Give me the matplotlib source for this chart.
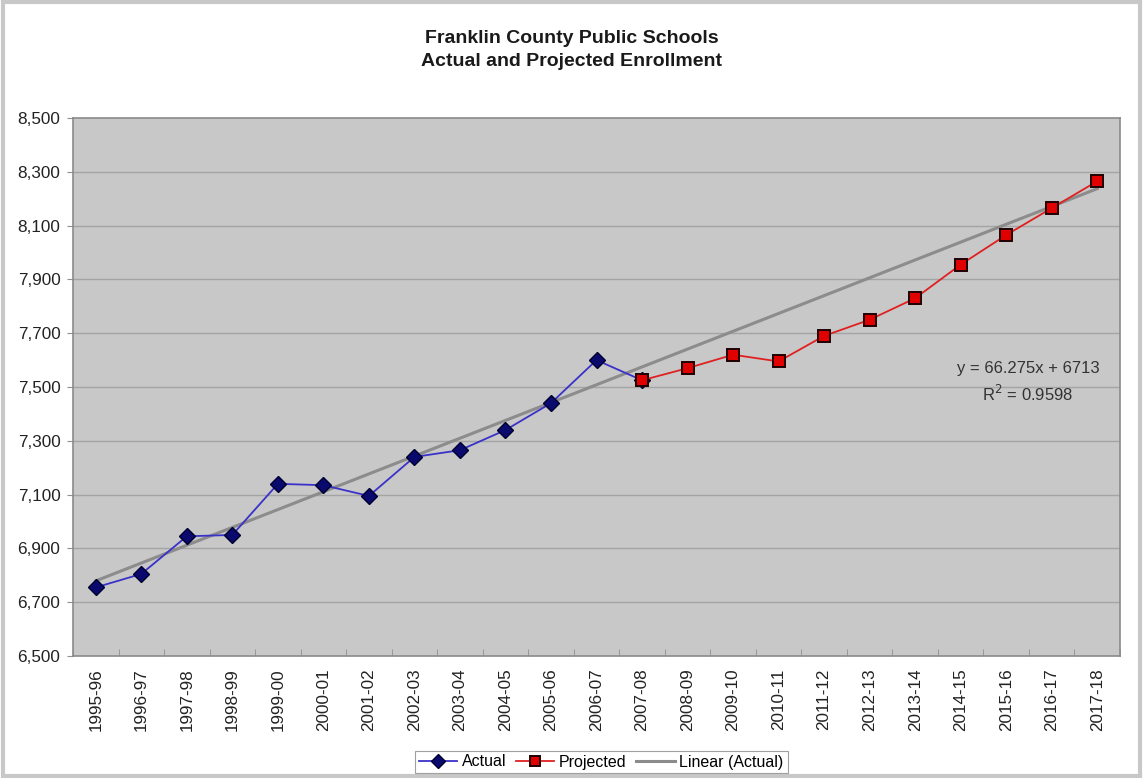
import matplotlib.pyplot as plt
from matplotlib.patches import Rectangle
from matplotlib.ticker import FuncFormatter

plt.rcParams['font.family'] = ['Liberation Sans', 'DejaVu Sans']

years = ["1995-96", "1996-97", "1997-98", "1998-99", "1999-00", "2000-01",
         "2001-02", "2002-03", "2003-04", "2004-05", "2005-06", "2006-07",
         "2007-08", "2008-09", "2009-10", "2010-11", "2011-12", "2012-13",
         "2013-14", "2014-15", "2015-16", "2016-17", "2017-18"]

# actual includes 2007-08 (the blue line runs into that point)
actual = [6755, 6805, 6945, 6950, 7140, 7135, 7095, 7240, 7265, 7340,
          7440, 7600, 7525]
projected = [7525, 7570, 7620, 7595, 7690, 7750, 7830, 7955, 8065, 8165, 8265]
y_ticks = list(range(6500, 8501, 200))

# excel trendline on the actual series
slope = 66.275
intercept = 6713
r2 = 0.9598

fig = plt.figure(figsize=(11.43, 7.78), dpi=100)
ax = fig.add_axes([73 / 1143, 1 - 656 / 778, (1120 - 73) / 1143, (656 - 118) / 778])

x_act = list(range(1, len(actual) + 1))
x_proj = list(range(len(actual), len(actual) + len(projected)))
x_all = list(range(1, len(years) + 1))
trend = [slope * x + intercept for x in x_all]

ax.set_facecolor("#c8c8c8")
for y in y_ticks[1:-1]:
    ax.axhline(y, color="#a4a4a4", lw=1, zorder=1)

ax.plot(x_all, trend, color="#8c8c8c", lw=2.2, zorder=2, label="Linear (Actual)")
ax.plot(x_act, actual, color="#3a32c8", lw=1.3, marker="D", markersize=8,
        markerfacecolor="#0a0a6e", markeredgecolor="#000030", zorder=3, label="Actual")
ax.plot(x_proj, projected, color="#e02020", lw=1.3, marker="s", markersize=8.5,
        markerfacecolor="#e00000", markeredgecolor="#200000", markeredgewidth=1.4,
        zorder=4, label="Projected")

ax.set_xlim(0.5, len(years) + 0.5)
ax.set_ylim(6500, 8500)
ax.set_xticks(x_all)
ax.set_xticklabels(years, rotation=90, fontsize=12.3, color="#222222")
ax.set_xticks([x + 0.5 for x in range(0, len(years) + 1)], minor=True)
ax.tick_params(axis="x", which="major", length=0, pad=9)
ax.tick_params(axis="x", which="minor", length=5, direction="in", color="#909090")
ax.set_yticks(y_ticks)
ax.yaxis.set_major_formatter(FuncFormatter(lambda v, p: f"{int(v):,}"))
ax.tick_params(axis="y", labelsize=12.3, length=4, color="#909090", labelcolor="#222222", pad=5)
for s in ax.spines.values():
    s.set_color("#8a8a8a")
    s.set_linewidth(1.2)

ax.text(0.912, 0.509, f"y = {slope}x + {intercept}\nR$^2$ = {r2}", transform=ax.transAxes,
        ha="center", va="center", fontsize=12, color="#333333", linespacing=1.45)

fig.suptitle("Franklin County Public Schools\nActual and Projected Enrollment",
             x=0.5, y=1 - 30 / 778, fontsize=14, fontweight="bold", color="#1a1a1a",
             va="top", linespacing=1.45)

h, l = ax.get_legend_handles_labels()
order = [1, 2, 0]
leg = fig.legend([h[i] for i in order], [l[i] for i in order], loc="center",
                 bbox_to_anchor=(0.526, 1 - 762 / 778), ncol=3, fontsize=11.5,
                 frameon=True, fancybox=False, handlelength=2.4, handletextpad=0.3,
                 columnspacing=0.6, borderpad=0.25, markerscale=0.9)
leg.get_frame().set_edgecolor("#888888")
leg.get_frame().set_linewidth(0.8)

fig.patches.append(Rectangle((0.003, 0.003), 0.994, 0.994, transform=fig.transFigure,
                             fill=False, edgecolor="#c8c8c8", lw=3))

fig.savefig("out.png", dpi=100)
